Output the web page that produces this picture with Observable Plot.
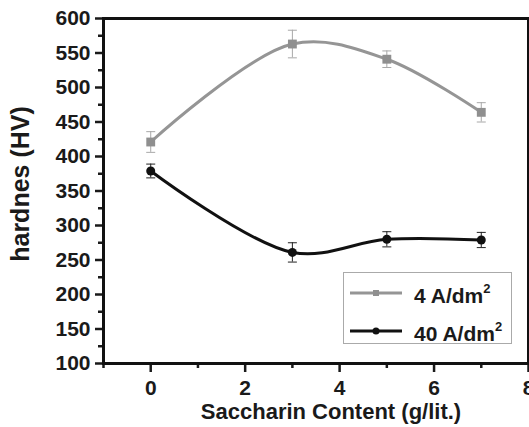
<!DOCTYPE html>
<html>
<head>
<meta charset="utf-8">
<script src="https://cdn.jsdelivr.net/npm/d3@7"></script>
<script src="https://cdn.jsdelivr.net/npm/@observablehq/plot@0.6"></script>
<style>
  html, body { margin: 0; padding: 0; background: #fff; }
  #wrap { position: relative; width: 529px; height: 427px; font-family: "Liberation Sans", Arial, sans-serif; font-weight: bold; }
  #legend { position: absolute; left: 343px; top: 272px; }
</style>
</head>
<body>
<div id="wrap"><div id="chart"></div><div id="legend"></div></div>
<script>
// Data
const saccharin = [0, 3, 5, 7];
const hv4 = [421, 563, 541, 464];
const err4 = [15, 20, 12, 14];
const hv40 = [379, 261, 280, 279];
const err40 = [10, 14, 11, 11];
const seriesNames = ["4 A/dm", "40 A/dm"];
const seriesColors = ["#959595", "#111111"];
const xMajorTicks = [0, 2, 4, 6, 8];
const xMinorTicks = [-1, 1, 3, 5, 7];
const yMajorTicks = [100, 150, 200, 250, 300, 350, 400, 450, 500, 550, 600];
const yMinorTicks = [125, 175, 225, 275, 325, 375, 425, 475, 525, 575];
const xTitle = "Saccharin Content (g/lit.)";
const yTitle = "hardnes (HV)";

const rows4 = saccharin.map((x, i) => ({x, y: hv4[i], e: err4[i]}));
const rows40 = saccharin.map((x, i) => ({x, y: hv40[i], e: err40[i]}));

const capSymbol = {
  draw(ctx, size) {
    const w = Math.sqrt(size / Math.PI);
    ctx.moveTo(-w, 0);
    ctx.lineTo(w, 0);
  }
};

function errorMarks(rows, color) {
  return [
    Plot.ruleX(rows, {x: "x", y1: d => d.y - d.e, y2: d => d.y + d.e, stroke: color, strokeWidth: 1}),
    Plot.dot(rows, {x: "x", y: d => d.y - d.e, symbol: capSymbol, r: 4.5, stroke: color, strokeWidth: 1}),
    Plot.dot(rows, {x: "x", y: d => d.y + d.e, symbol: capSymbol, r: 4.5, stroke: color, strokeWidth: 1})
  ];
}

const ink = "#1a1a1a";

const chart = Plot.plot({
  width: 529,
  height: 427,
  marginLeft: 103,
  marginTop: 18,
  marginRight: 1,
  marginBottom: 64,
  style: {fontFamily: "'Liberation Sans', Arial, sans-serif", fontWeight: "bold", fontSize: "21px", color: ink, background: "#fff", overflow: "visible"},
  x: {domain: [-1, 8]},
  y: {domain: [100, 600]},
  marks: [
    Plot.axisX(xMajorTicks, {tickSize: 9, tickPadding: 8, strokeWidth: 2.5, label: null, fontSize: 21, fill: ink}),
    Plot.axisX(xMinorTicks, {tickSize: 5, strokeWidth: 2.5, tickFormat: () => "", label: null}),
    Plot.axisY(yMajorTicks, {tickSize: 8, tickPadding: 5, strokeWidth: 2.5, label: null, fontSize: 21, fill: ink}),
    Plot.axisY(yMinorTicks, {tickSize: 5, strokeWidth: 2.5, tickFormat: () => "", label: null}),
    ...errorMarks(rows4, "#a8a8a8"),
    Plot.line(rows4, {x: "x", y: "y", curve: "catmull-rom", stroke: seriesColors[0], strokeWidth: 3}),
    Plot.dot(rows4, {x: "x", y: "y", symbol: "square", r: 5, fill: "#8f8f8f"}),
    ...errorMarks(rows40, "#222"),
    Plot.line(rows40, {x: "x", y: "y", curve: "catmull-rom", stroke: seriesColors[1], strokeWidth: 3}),
    Plot.dot(rows40, {x: "x", y: "y", r: 4.5, fill: "#111"}),
    Plot.frame({stroke: "#111", strokeWidth: 3}),
    Plot.text([xTitle], {frameAnchor: "bottom", textAnchor: "middle", lineAnchor: "middle", dx: 15, dy: 48, fontSize: 22, fill: ink}),
    Plot.text([yTitle], {frameAnchor: "left", textAnchor: "middle", lineAnchor: "middle", rotate: -90, dx: -83, dy: -7, fontSize: 25, fill: ink})
  ]
});
document.getElementById("chart").appendChild(chart);

// Legend
const lg = d3.select("#legend").append("svg")
  .attr("width", 170).attr("height", 73)
  .style("font-family", "'Liberation Sans', Arial, sans-serif")
  .style("font-weight", "bold");
lg.append("rect").attr("x", 0.5).attr("y", 0.5).attr("width", 168).attr("height", 71)
  .attr("fill", "#fff").attr("stroke", "#aaa").attr("stroke-width", 1);
seriesNames.forEach((name, i) => {
  const cy = 21 + i * 38;
  lg.append("line").attr("x1", 7).attr("x2", 59).attr("y1", cy).attr("y2", cy)
    .attr("stroke", seriesColors[i]).attr("stroke-width", 3);
  if (i === 0) {
    lg.append("rect").attr("x", 30).attr("y", cy - 3).attr("width", 6).attr("height", 6).attr("fill", "#8f8f8f");
  } else {
    lg.append("circle").attr("cx", 33).attr("cy", cy).attr("r", 3.5).attr("fill", "#111");
  }
  const t = lg.append("text").attr("x", 71).attr("y", cy + 10).attr("font-size", 21).attr("fill", ink);
  t.append("tspan").text(name);
  t.append("tspan").attr("font-size", 13).attr("dy", -10).text("2");
});
</script>
</body>
</html>
